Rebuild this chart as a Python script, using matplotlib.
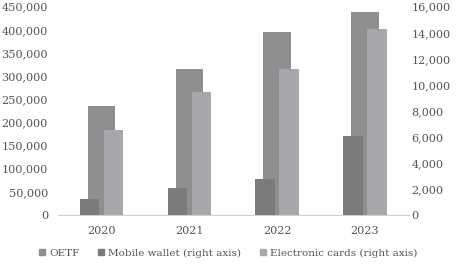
import matplotlib
matplotlib.use("Agg")
import matplotlib.pyplot as plt
import numpy as np
from matplotlib.ticker import FuncFormatter, MultipleLocator
from matplotlib.patches import Patch

years = ["2020", "2021", "2022", "2023"]
oetf = [236000, 316000, 395000, 438000]
mobile_wallet = [1230, 2050, 2770, 6070]
electronic_cards = [6530, 9420, 11190, 14290]

plt.rcParams['font.family'] = ['DejaVu Serif']
txt = '#555555'

fig = plt.figure(figsize=(4.59, 2.66), dpi=100)
ax = fig.add_axes([57.6/459, 1-215/266, (408.8-57.6)/459, (215-6.7)/266])
ax2 = ax.twinx()

x = np.arange(len(years))
ax.bar(x, oetf, width=0.31, color='#8f8f8f', zorder=2)
ax2.bar(x - 0.137, mobile_wallet, width=0.22, color='#7b7b7b', zorder=2)
ax2.bar(x + 0.137, electronic_cards, width=0.22, color='#a8a8aa', zorder=2)

ax.set_xlim(-0.5, 3.5)
ax.set_ylim(0, 450000)
ax2.set_ylim(0, 16000)
ax.yaxis.set_major_locator(MultipleLocator(50000))
ax2.yaxis.set_major_locator(MultipleLocator(2000))
fmt = FuncFormatter(lambda v, p: f"{int(v):,}")
ax.yaxis.set_major_formatter(fmt)
ax2.yaxis.set_major_formatter(fmt)
ax.set_xticks(x)
ax.set_xticklabels(years)

for a in (ax, ax2):
    for s in a.spines.values():
        s.set_visible(False)
    a.tick_params(length=0, colors=txt, labelsize=8.1)
ax.spines['bottom'].set_visible(True)
ax.spines['bottom'].set_color('#d0d0d0')
ax.tick_params(axis='y', pad=7)
ax2.tick_params(axis='y', pad=2)
ax.tick_params(axis='x', pad=8)

handles = [Patch(color='#8f8f8f'), Patch(color='#7b7b7b'), Patch(color='#a8a8aa')]
labels = ["OETF", "Mobile wallet (right axis)", "Electronic cards (right axis)"]
leg = fig.legend(handles, labels, loc='center', bbox_to_anchor=(228/459, 1-253/266),
                 ncol=3, frameon=False, fontsize=7.5, handlelength=0.6, handleheight=0.6,
                 handletextpad=0.35, columnspacing=1.8, labelcolor=txt)

fig.savefig("out.png", dpi=100)
